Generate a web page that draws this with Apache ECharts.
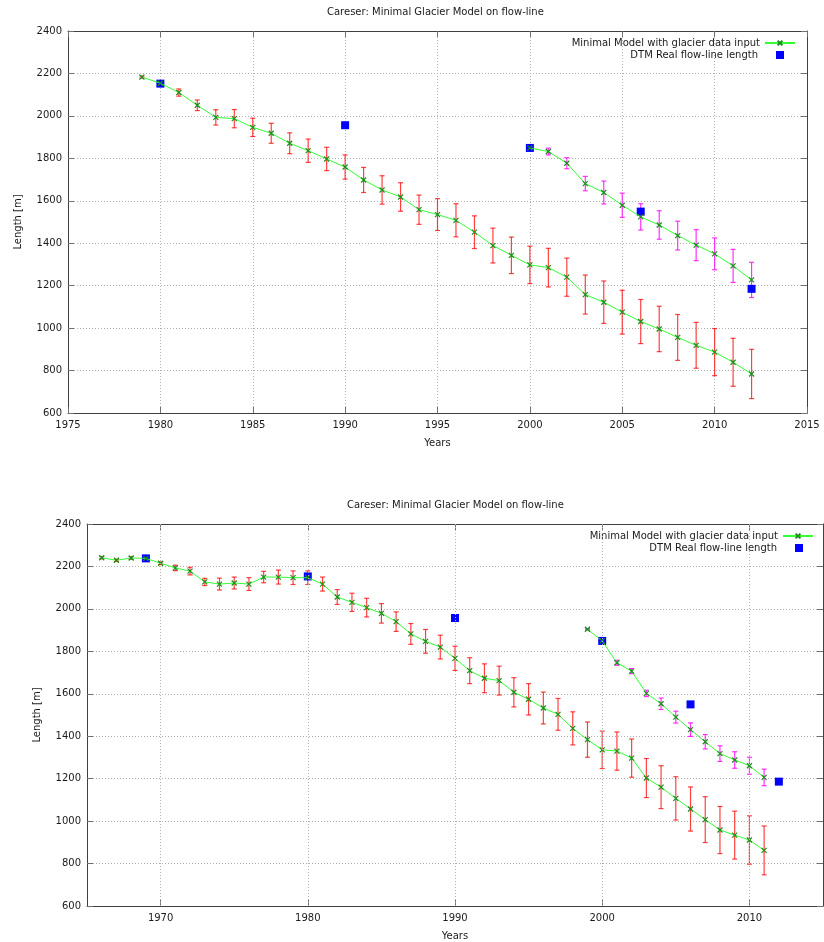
<!DOCTYPE html>
<html>
<head>
<meta charset="utf-8">
<script src="https://cdn.jsdelivr.net/npm/echarts@6/dist/echarts.min.js"></script>
<style>html,body{margin:0;padding:0;background:#fff}#c{width:824px;height:942px}</style>
</head>
<body>
<div id="c"></div>
<script>
// ---------- Top chart (model started 1979) ----------
const topModelYears = [1979,1980,1981,1982,1983,1984,1985,1986,1987,1988,1989,1990,1991,1992,1993,1994,1995,1996,1997,1998,1999,2000,2001,2002,2003,2004,2005,2006,2007,2008,2009,2010,2011,2012];
const topModelValues = [2183,2154,2110,2050,1993,1987,1946,1918,1871,1836,1797,1759,1698,1651,1618,1558,1535,1508,1452,1389,1343,1298,1285,1240,1158,1122,1075,1031,996,956,919,887,839,784];
const topModelErrors = [5,8,17,25,36,43,43,47,49,55,55,57,59,67,67,69,75,78,77,82,86,88,91,90,92,100,103,104,107,108,108,111,113,116];

const topRestartYears = [2000,2001,2002,2003,2004,2005,2006,2007,2008,2009,2010,2011,2012];
const topRestartValues = [1849,1832,1777,1681,1639,1579,1524,1486,1436,1391,1350,1293,1227];
const topRestartErrors = [3,16,26,34,54,57,62,67,68,73,75,78,83];

const topDtmYears = [1980,1990,2000,2006,2012];
const topDtmValues = [2152,1956,1849,1549,1185];

// ---------- Bottom chart (model started 1966) ----------
const botModelYears = [1966,1967,1968,1969,1970,1971,1972,1973,1974,1975,1976,1977,1978,1979,1980,1981,1982,1983,1984,1985,1986,1987,1988,1989,1990,1991,1992,1993,1994,1995,1996,1997,1998,1999,2000,2001,2002,2003,2004,2005,2006,2007,2008,2009,2010,2011];
const botModelValues = [2241,2229,2240,2238,2215,2193,2178,2127,2117,2122,2117,2150,2150,2147,2147,2117,2056,2031,2006,1979,1940,1882,1847,1820,1767,1709,1673,1662,1607,1574,1533,1503,1437,1384,1336,1330,1297,1203,1160,1107,1057,1007,958,934,911,862];
const botModelErrors = [5,5,6,6,6,13,18,17,28,28,30,27,33,32,32,33,35,43,44,46,46,49,56,56,57,61,68,68,69,74,75,75,78,83,88,90,90,92,101,102,104,108,111,113,114,115];

const botRestartYears = [1999,2000,2001,2002,2003,2004,2005,2006,2007,2008,2009,2010,2011];
const botRestartValues = [1904,1849,1746,1707,1602,1553,1490,1431,1374,1318,1288,1261,1206];
const botRestartErrors = [3,3,12,12,15,27,28,32,34,37,39,40,39];

const botDtmYears = [1969,1980,1990,2000,2006,2012];
const botDtmValues = [2238,2153,1957,1849,1550,1186];

// ---------- Texts and ticks ----------
const chartTitle = 'Careser: Minimal Glacier Model on flow-line';
const modelName = 'Minimal Model with glacier data input';
const dtmName = 'DTM Real flow-line length';
const xName = 'Years';
const yName = 'Length [m]';
const yTicks = {min: 600, max: 2400, step: 200};
const topXTicks = {min: 1975, max: 2015, step: 5};
const botXRange = {min: 1965, max: 2015, step: 5};
const botXTickLabels = [1970, 1980, 1990, 2000, 2010];

const FONT = 'DejaVu Sans';
const TXT = '#1a1a1a';
const GREEN = '#33ff33';
const MARK = '#1c8c1c';
const RED = 'rgba(255,0,0,0.75)';
const MAGENTA = 'rgba(255,0,255,0.8)';
const BLUE = '#0000ff';
const GRID = '#b0b0b0';

const pairs = (xs, ys) => xs.map((x, i) => [x, ys[i]]);
const bars = (xs, ys, es) => xs.map((x, i) => [x, ys[i] - es[i], ys[i] + es[i]]);

function errRenderer(color) {
  return function (params, api) {
    const x = api.value(0);
    const lo = api.coord([x, api.value(1)]);
    const hi = api.coord([x, api.value(2)]);
    const w = 2.5;
    const st = {stroke: color, lineWidth: 1.2};
    return {
      type: 'group',
      children: [
        {type: 'line', shape: {x1: lo[0], y1: lo[1], x2: hi[0], y2: hi[1]}, style: st},
        {type: 'line', shape: {x1: lo[0] - w, y1: lo[1], x2: lo[0] + w, y2: lo[1]}, style: st},
        {type: 'line', shape: {x1: hi[0] - w, y1: hi[1], x2: hi[0] + w, y2: hi[1]}, style: st}
      ]
    };
  };
}

const crossSymbol = 'path://M0,0L10,10M10,0L0,10';
const squareIcon = 'path://M0,0L10,0L10,10L0,10Z';

function modelLine(data, gi) {
  return {
    type: 'line', name: modelName, xAxisIndex: gi, yAxisIndex: gi, data: data,
    symbol: crossSymbol, symbolSize: 5, showSymbol: true,
    lineStyle: {color: GREEN, width: 1},
    itemStyle: {color: 'rgba(0,0,0,0)', borderColor: MARK, borderWidth: 1.2},
    emphasis: {disabled: true}, animation: false, z: 4
  };
}

function baseX(gi, r, pos, labels) {
  return {
    type: 'value', gridIndex: gi, min: r.min, max: r.max, interval: r.step, position: pos,
    name: labels ? xName : '', nameLocation: 'middle', nameGap: 25,
    nameTextStyle: {fontFamily: FONT, fontSize: 10, color: TXT},
    axisLine: {show: true, onZero: false, lineStyle: {color: '#404040', width: 1}},
    axisTick: {show: true, inside: true, length: 6, lineStyle: {color: '#707070'}},
    axisLabel: {show: labels, margin: 7, fontFamily: FONT, fontSize: 10, color: TXT, formatter: v => String(v)},
    splitLine: {show: labels, lineStyle: {color: GRID, type: [1, 2], width: 1}}
  };
}

function botX(pos, labels) {
  const a = baseX(1, botXRange, pos, labels);
  a.axisTick.customValues = botXTickLabels;
  a.axisLabel.customValues = botXTickLabels;
  a.axisLabel.formatter = v => (botXTickLabels.indexOf(v) >= 0 ? String(v) : '');
  a.splitLine = {show: false};
  return a;
}

function yAxisCfg(gi, pos, labels) {
  return {
    type: 'value', gridIndex: gi, min: yTicks.min, max: yTicks.max, interval: yTicks.step, position: pos,
    name: labels ? yName : '', nameLocation: 'middle', nameGap: 45,
    nameTextStyle: {fontFamily: FONT, fontSize: 10, color: TXT},
    axisLine: {show: true, onZero: false, lineStyle: {color: '#404040', width: 1}},
    axisTick: {show: true, inside: true, length: 6, lineStyle: {color: '#707070'}},
    axisLabel: {show: labels, margin: 6, fontFamily: FONT, fontSize: 10, color: TXT, formatter: v => String(v)},
    splitLine: {show: labels, lineStyle: {color: GRID, type: [1, 2], width: 1}}
  };
}

function legendCfg(item, top, right, iconH, iconW, padRight) {
  return {
    data: [item], top: top, right: right, orient: 'vertical', align: 'right', padding: 0,
    itemWidth: iconW, itemHeight: iconH, selectedMode: false, symbolKeepAspect: true,
    textStyle: {fontFamily: FONT, fontSize: 10, color: TXT, padding: [0, padRight, 0, 0]}
  };
}

const option = {
  animation: false,
  backgroundColor: '#ffffff',
  title: [
    {text: chartTitle, left: 327, top: 7, padding: 0, textStyle: {fontFamily: FONT, fontSize: 10, fontWeight: 'normal', color: TXT}},
    {text: chartTitle, left: 347, top: 500, padding: 0, textStyle: {fontFamily: FONT, fontSize: 10, fontWeight: 'normal', color: TXT}}
  ],
  legend: [
    legendCfg(modelName, 38, 28, 6, 30, 0),
    legendCfg({name: dtmName, icon: squareIcon}, 50, 40, 8, 8, 13),
    legendCfg(modelName, 531, 10, 6, 30, 0),
    legendCfg({name: dtmName, icon: squareIcon}, 543, 21, 8, 8, 13)
  ],
  grid: [
    {left: 68, top: 31, width: 739, height: 382},
    {left: 87, top: 524, width: 736, height: 382}
  ],
  xAxis: [
    baseX(0, topXTicks, 'bottom', true),
    botX('bottom', true),
    baseX(0, topXTicks, 'top', false),
    botX('top', false)
  ],
  yAxis: [
    yAxisCfg(0, 'left', true),
    yAxisCfg(1, 'left', true),
    yAxisCfg(0, 'right', false),
    yAxisCfg(1, 'right', false)
  ],
  series: [
    {type: 'custom', name: 'errTop1', xAxisIndex: 0, yAxisIndex: 0, data: bars(topModelYears, topModelValues, topModelErrors), renderItem: errRenderer(RED), z: 2, silent: true},
    {type: 'custom', name: 'errTop2', xAxisIndex: 0, yAxisIndex: 0, data: bars(topRestartYears, topRestartValues, topRestartErrors), renderItem: errRenderer(MAGENTA), z: 2, silent: true},
    {type: 'scatter', name: dtmName, xAxisIndex: 0, yAxisIndex: 0, data: pairs(topDtmYears, topDtmValues), symbol: 'rect', symbolSize: 8, itemStyle: {color: BLUE, opacity: 1}, z: 3},
    modelLine(pairs(topModelYears, topModelValues), 0),
    modelLine(pairs(topRestartYears, topRestartValues), 0),

    {type: 'scatter', name: 'gridBot', xAxisIndex: 1, yAxisIndex: 1, data: [], z: 1, silent: true,
      markLine: {silent: true, symbol: 'none', label: {show: false}, animation: false,
        lineStyle: {color: GRID, type: [1, 2], width: 1},
        data: botXTickLabels.map(v => ({xAxis: v}))}},
    {type: 'custom', name: 'errBot1', xAxisIndex: 1, yAxisIndex: 1, data: bars(botModelYears, botModelValues, botModelErrors), renderItem: errRenderer(RED), z: 2, silent: true},
    {type: 'custom', name: 'errBot2', xAxisIndex: 1, yAxisIndex: 1, data: bars(botRestartYears, botRestartValues, botRestartErrors), renderItem: errRenderer(MAGENTA), z: 2, silent: true},
    {type: 'scatter', name: dtmName, xAxisIndex: 1, yAxisIndex: 1, data: pairs(botDtmYears, botDtmValues), symbol: 'rect', symbolSize: 8, itemStyle: {color: BLUE, opacity: 1}, z: 3},
    modelLine(pairs(botModelYears, botModelValues), 1),
    modelLine(pairs(botRestartYears, botRestartValues), 1)
  ]
};

const chart = echarts.init(document.getElementById('c'), null, {renderer: 'canvas'});
chart.setOption(option);
</script>
</body>
</html>
